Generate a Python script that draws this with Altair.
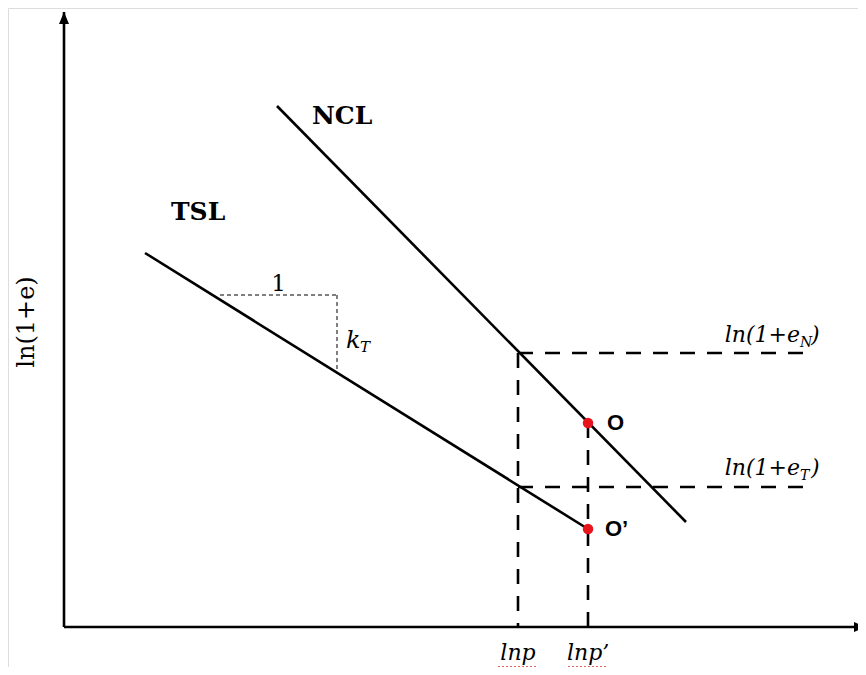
import altair as alt
import pandas as pd

# ---- schematic values (arbitrary log units) ----
LNP = 4.54          # ln p
LNP_PRIME = 5.24    # ln p'
LN_EN = 2.74        # ln(1+e_N)
LN_ET = 1.40        # ln(1+e_T)
NCL_X = [2.13, 6.22]
NCL_Y = [5.21, 1.05]
TSL_X = [0.81, 5.24]
TSL_Y = [3.74, 0.98]
O_PT = [5.24, 2.04]
O_PRIME_PT = [5.24, 0.98]
SLOPE_X = [1.56, 2.73]
SLOPE_Y = [3.32, 2.53]
X_AXIS_END = 8.02
Y_AXIS_END = 6.15
GUIDE_END = 7.48

XS = alt.Scale(domain=[-0.56, 7.94], nice=False, zero=False)
YS = alt.Scale(domain=[-0.40, 6.19], nice=False, zero=False)


def X(f="x"):
    return alt.X(f, type="quantitative", scale=XS, axis=None)


def Y(f="y"):
    return alt.Y(f, type="quantitative", scale=YS, axis=None)


SERIF = "DejaVu Serif"
SANS = "Liberation Sans"

# axes
axes_df = pd.DataFrame({"x": [0, 0], "y": [0, 0], "x2": [X_AXIS_END, 0], "y2": [0, Y_AXIS_END]})
axes = alt.Chart(axes_df).mark_rule(color="black", strokeWidth=2.6).encode(
    x=X(), y=Y(), x2="x2", y2="y2")

arrow_up = alt.Chart(pd.DataFrame({"x": [0], "y": [Y_AXIS_END]})).mark_point(
    shape="M0,0L-1,2.4L1,2.4Z", filled=True, color="black", opacity=1, size=100
).encode(x=X(), y=Y())
arrow_right = alt.Chart(pd.DataFrame({"x": [X_AXIS_END], "y": [0]})).mark_point(
    shape="M0,0L-2.4,-1L-2.4,1Z", filled=True, color="black", opacity=1, size=100
).encode(x=X(), y=Y())

# NCL and TSL
lines_df = pd.DataFrame({
    "line": ["NCL", "NCL", "TSL", "TSL"],
    "x": NCL_X + TSL_X,
    "y": NCL_Y + TSL_Y,
})
lines = alt.Chart(lines_df).mark_line(color="black", strokeWidth=2.6).encode(
    x=X(), y=Y(), detail="line:N")

# dashed guides
guides_df = pd.DataFrame({
    "x": [LNP, LNP, LNP, LNP_PRIME],
    "x2": [GUIDE_END, GUIDE_END, LNP, LNP_PRIME],
    "y": [LN_EN, LN_ET, LN_EN, O_PT[1]],
    "y2": [LN_EN, LN_ET, 0, 0],
})
guides = alt.Chart(guides_df).mark_rule(
    color="black", strokeWidth=2.6, strokeDash=[15, 12]
).encode(x=X(), y=Y(), x2="x2", y2="y2")

# slope triangle
tri_df = pd.DataFrame({
    "x": [SLOPE_X[0], SLOPE_X[1]],
    "x2": [SLOPE_X[1], SLOPE_X[1]],
    "y": [SLOPE_Y[0], SLOPE_Y[0]],
    "y2": [SLOPE_Y[0], SLOPE_Y[1]],
})
tri = alt.Chart(tri_df).mark_rule(color="black", strokeWidth=1, strokeDash=[4, 3]).encode(
    x=X(), y=Y(), x2="x2", y2="y2")

# red state points
pts_df = pd.DataFrame({"x": [O_PT[0], O_PRIME_PT[0]], "y": [O_PT[1], O_PRIME_PT[1]]})
pts = alt.Chart(pts_df).mark_point(filled=True, color="#e8141b", opacity=1, size=110).encode(
    x=X(), y=Y())

# red spell-check squiggles under the tick labels
sq_df = pd.DataFrame({"x": [LNP, LNP_PRIME], "y": [0, 0]})
squiggle = alt.Chart(sq_df).mark_rule(
    color="#d9342b", strokeWidth=1.6, strokeDash=[2, 2],
    xOffset=-20, x2Offset=20, yOffset=40, y2Offset=40
).encode(x=X(), x2="x", y=Y(), y2="y")


def label(x, y, text, **kw):
    return alt.Chart(pd.DataFrame({"x": [x], "y": [y], "t": [text]})).mark_text(**kw).encode(
        x=X(), y=Y(), text="t:N")


texts = [
    label(NCL_X[0], NCL_Y[0], "NCL", font=SERIF, fontWeight="bold", fontSize=25,
          align="left", baseline="alphabetic", dx=35, dy=18),
    label(TSL_X[0], TSL_Y[0], "TSL", font=SERIF, fontWeight="bold", fontSize=25,
          align="left", baseline="alphabetic", dx=26, dy=-33),
    label((SLOPE_X[0] + SLOPE_X[1]) / 2, SLOPE_Y[0], "1", font=SERIF, fontSize=23,
          align="center", baseline="alphabetic", dy=-4),
    label(SLOPE_X[1], (SLOPE_Y[0] + SLOPE_Y[1]) / 2, "k", font=SERIF, fontStyle="italic",
          fontSize=24, align="left", baseline="alphabetic", dx=9, dy=13),
    label(SLOPE_X[1], (SLOPE_Y[0] + SLOPE_Y[1]) / 2, "T", font=SERIF, fontStyle="italic",
          fontSize=15, align="left", baseline="alphabetic", dx=23, dy=17),
    # ln(1+e_N)
    label(GUIDE_END, LN_EN, "ln(1+e", font=SERIF, fontStyle="italic", fontSize=22,
          align="right", baseline="alphabetic", dx=-12, dy=-11),
    label(GUIDE_END, LN_EN, "N", font=SERIF, fontStyle="italic", fontSize=14,
          align="left", baseline="alphabetic", dx=-12, dy=-6),
    label(GUIDE_END, LN_EN, ")", font=SERIF, fontStyle="italic", fontSize=22,
          align="left", baseline="alphabetic", dx=-1, dy=-11),
    # ln(1+e_T)
    label(GUIDE_END, LN_ET, "ln(1+e", font=SERIF, fontStyle="italic", fontSize=22,
          align="right", baseline="alphabetic", dx=-12, dy=-12),
    label(GUIDE_END, LN_ET, "T", font=SERIF, fontStyle="italic", fontSize=14,
          align="left", baseline="alphabetic", dx=-12, dy=-7),
    label(GUIDE_END, LN_ET, ")", font=SERIF, fontStyle="italic", fontSize=22,
          align="left", baseline="alphabetic", dx=-1, dy=-12),
    # state labels
    label(O_PT[0], O_PT[1], "O", font=SANS, fontWeight="bold", fontSize=22,
          align="left", baseline="middle", dx=19),
    label(O_PRIME_PT[0], O_PRIME_PT[1], "O\u2019", font=SANS, fontWeight="bold", fontSize=22,
          align="left", baseline="middle", dx=17),
    # x tick labels
    label(LNP, 0, "lnp", font=SERIF, fontStyle="italic", fontSize=22,
          align="center", baseline="alphabetic", dy=33),
    label(LNP_PRIME, 0, "lnp\u2019", font=SERIF, fontStyle="italic", fontSize=22,
          align="left", baseline="alphabetic", dx=-21, dy=33),
]

ytitle = alt.Chart(pd.DataFrame({"t": ["ln(1+e)"]})).mark_text(
    font=SERIF, fontSize=24, angle=270, align="center", baseline="middle"
).encode(x=alt.value(19), y=alt.value(314), text="t:N")

chart = alt.layer(axes, arrow_up, arrow_right, lines, guides, tri, pts, squiggle,
                  *texts, ytitle).properties(
    width=850, height=659, padding=0, autosize=alt.AutoSizeParams(type="none")
).configure_view(stroke=None).configure(background="white")

chart.save("out.html", embed_options={"renderer": "svg", "actions": False})
